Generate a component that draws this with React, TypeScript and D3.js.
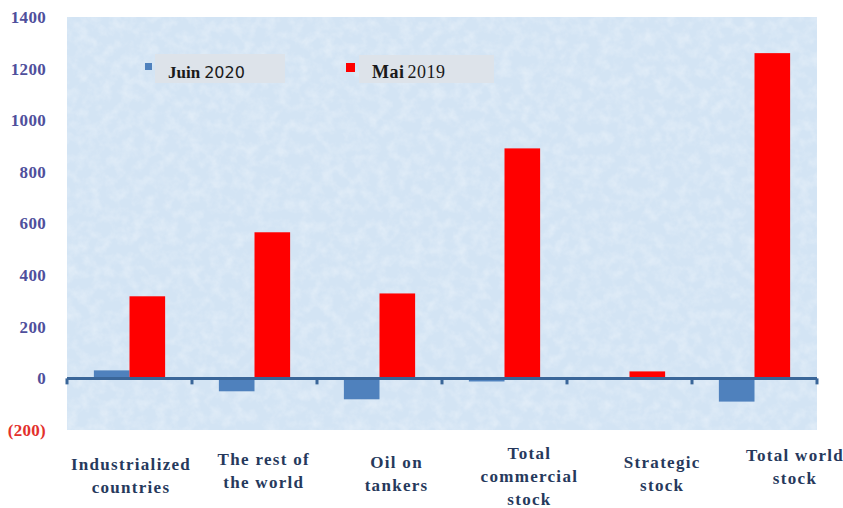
import React from "react";
import * as d3 from "d3";

// Stock changes by category (million barrels)
const categories = [
  "Industrialized countries",
  "The rest of the world",
  "Oil on tankers",
  "Total commercial stock",
  "Strategic stock",
  "Total world stock",
];
const categoryLines = [
  ["Industrialized", "countries"],
  ["The rest of", "the world"],
  ["Oil on", "tankers"],
  ["Total", "commercial", "stock"],
  ["Strategic", "stock"],
  ["Total world", "stock"],
];
const june2020 = [31, -50, -81, -12, -2, -90];
const may2019 = [318, 566, 329, 891, 27, 1260];
const yTicks = [-200, 0, 200, 400, 600, 800, 1000, 1200, 1400];
const seriesKeys = ["Juin 2020", "Mai 2019"];

const W = 843;
const H = 508;
const plot = { left: 67, right: 817, top: 17, bottom: 430 };
// first-line baseline of each category label
const labelTop = [470, 465, 468, 459, 468, 461];

const BLUE = "#4f81bd";
const RED = "#ff0000";
const AXIS = "#3a6699";
const SERIF = "'Liberation Serif', 'DejaVu Serif', serif";

export default function App() {
  const x = d3
    .scaleBand<string>()
    .domain(categories)
    .range([plot.left, plot.right])
    .padding(0);
  const bw = x.bandwidth();
  const xs = d3
    .scaleBand<string>()
    .domain(seriesKeys)
    .range([bw * 0.215, bw * 0.785])
    .padding(0);
  const y = d3.scaleLinear().domain([-200, 1400]).range([plot.bottom, plot.top]);
  const labelX = d3
    .scalePoint<string>()
    .domain(categories)
    .range([131, 795]);

  const series = [
    { key: seriesKeys[0], values: june2020, color: BLUE },
    { key: seriesKeys[1], values: may2019, color: RED },
  ];

  const y0 = y(0);

  return (
    <svg
      width={W}
      height={H}
      style={{ position: "absolute", left: 0, top: 0, background: "#fff" }}
    >
      <defs>
        <filter id="paper" x="0" y="0" width="100%" height="100%">
          <feTurbulence type="fractalNoise" baseFrequency="0.09" numOctaves="3" seed="7" />
          <feColorMatrix
            type="matrix"
            values="0 0 0 0 1  0 0 0 0 1  0 0 0 0 1  1.8 0 0 0 -0.7"
          />
        </filter>
      </defs>

      {/* plot area background */}
      <rect
        x={plot.left}
        y={plot.top}
        width={plot.right - plot.left}
        height={plot.bottom - plot.top}
        fill="#d3e4f4"
      />
      <rect
        x={plot.left}
        y={plot.top}
        width={plot.right - plot.left}
        height={plot.bottom - plot.top}
        filter="url(#paper)"
        opacity={0.35}
      />

      {/* y tick labels */}
      {yTicks.map((t) => (
        <text
          key={t}
          x={46}
          y={y(t)}
          dy="0.35em"
          textAnchor="end"
          fontFamily={SERIF}
          fontWeight="bold"
          fontSize={17}
          letterSpacing={0.3}
          fill={t < 0 ? "#e3302c" : "#4f4f9c"}
        >
          {t < 0 ? `(${Math.abs(t)})` : t}
        </text>
      ))}

      {/* bars */}
      {series.map((s) =>
        categories.map((c, i) => {
          const v = s.values[i];
          const bx = (x(c) ?? 0) + (xs(s.key) ?? 0);
          return (
            <rect
              key={s.key + c}
              x={bx}
              y={Math.min(y(v), y0)}
              width={xs.bandwidth()}
              height={Math.abs(y(v) - y0)}
              fill={s.color}
            />
          );
        })
      )}

      {/* category axis */}
      <line x1={plot.left} x2={plot.right} y1={y0} y2={y0} stroke={AXIS} strokeWidth={3} />
      {[...categories.map((c) => x(c) ?? 0), plot.right].map((tx, i) => (
        <line key={i} x1={tx} x2={tx} y1={y0} y2={y0 + 6} stroke={AXIS} strokeWidth={3} />
      ))}

      {/* category labels */}
      {categories.map((c, i) => {
        const lines = categoryLines[i];
        return (
          <text
            key={c}
            x={labelX(c)}
            textAnchor="middle"
            fontFamily={SERIF}
            fontWeight="bold"
            fontSize={17}
            letterSpacing={1.3}
            fill="#26395c"
          >
            {lines.map((ln, j) => (
              <tspan key={j} x={labelX(c)} y={labelTop[i] + j * 23}>
                {ln}
              </tspan>
            ))}
          </text>
        );
      })}

      {/* legend */}
      <rect x={155} y={54} width={130} height={29} fill="#dde3ea" />
      <rect x={145} y={63} width={7} height={7} fill={BLUE} />
      <text x={168} y={78} fontSize={17} fill="#1a1a1a">
        <tspan fontFamily={SERIF} fontWeight="bold">Juin</tspan>
        <tspan fontFamily="'DejaVu Sans', sans-serif" fontSize={16} dx={4}>2020</tspan>
      </text>

      <rect x={359} y={55} width={135} height={28} fill="#dde3ea" />
      <rect x={346} y={63} width={9} height={9} fill={RED} />
      <text x={372} y={78} fontSize={18} fill="#1a1a1a" fontFamily={SERIF} letterSpacing={0.5}>
        <tspan fontWeight="bold">Mai</tspan>
        <tspan dx={3}>2019</tspan>
      </text>
    </svg>
  );
}
